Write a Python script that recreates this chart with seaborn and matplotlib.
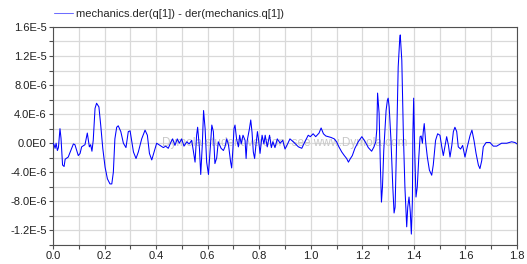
import numpy as np
import pandas as pd
import seaborn as sns
import matplotlib.pyplot as plt
from matplotlib.ticker import MultipleLocator, FuncFormatter

# signal (time in s, value in 1e-6)
t = [0.0, 0.004, 0.008, 0.012, 0.017, 0.021, 0.027, 0.031, 0.037, 0.043, 0.047,
     0.059, 0.069, 0.079, 0.085, 0.098, 0.105, 0.111, 0.124, 0.133, 0.141, 0.146,
     0.151, 0.156, 0.163, 0.169, 0.178, 0.185, 0.193, 0.202, 0.211, 0.221, 0.228,
     0.234, 0.240, 0.247, 0.253, 0.263, 0.273, 0.283, 0.292, 0.299, 0.312, 0.322,
     0.331, 0.344, 0.357, 0.366, 0.374, 0.383, 0.392, 0.402, 0.415, 0.428, 0.437,
     0.447, 0.458, 0.464, 0.473, 0.482, 0.490, 0.499, 0.508, 0.519, 0.528, 0.538,
     0.544, 0.551, 0.557, 0.561, 0.568, 0.573, 0.579, 0.584, 0.590, 0.596, 0.603,
     0.609, 0.616, 0.622, 0.628, 0.635, 0.641, 0.652, 0.661, 0.667, 0.674, 0.681,
     0.689, 0.693, 0.698, 0.702, 0.706, 0.712, 0.719, 0.724, 0.730, 0.737, 0.745,
     0.749, 0.753, 0.762, 0.767, 0.772, 0.777, 0.782, 0.787, 0.793, 0.798, 0.803,
     0.811, 0.818, 0.823, 0.831, 0.840, 0.847, 0.853, 0.861, 0.870, 0.881, 0.891,
     0.900, 0.910, 0.919, 0.932, 0.952, 0.965, 0.977, 0.990, 0.998, 1.009, 1.019,
     1.032, 1.040, 1.049, 1.058, 1.068, 1.078, 1.091, 1.100, 1.109, 1.120, 1.130,
     1.139, 1.146, 1.152, 1.161, 1.171, 1.184, 1.198, 1.211, 1.223, 1.236, 1.245,
     1.252, 1.256, 1.259, 1.265, 1.270, 1.274, 1.278, 1.283, 1.292, 1.297, 1.300,
     1.304, 1.311, 1.318, 1.323, 1.327, 1.333, 1.339, 1.345, 1.347, 1.353, 1.359,
     1.365, 1.372, 1.376, 1.381, 1.386, 1.390, 1.394, 1.396, 1.399, 1.403, 1.408,
     1.413, 1.419, 1.424, 1.428, 1.433, 1.436, 1.440, 1.446, 1.452, 1.460, 1.469,
     1.475, 1.484, 1.492, 1.501, 1.508, 1.514, 1.521, 1.527, 1.534, 1.540, 1.547,
     1.553, 1.559, 1.566, 1.572, 1.581, 1.589, 1.598, 1.607, 1.618, 1.625, 1.633,
     1.641, 1.650, 1.656, 1.663, 1.669, 1.680, 1.695, 1.708, 1.721, 1.740, 1.760,
     1.779, 1.792, 1.800]
v = [0.0, -0.2, -0.7, 0.0, -1.0, -0.6, 2.0, 0.7, -3.0, -3.2, -2.2,
     -1.9, -1.0, -0.1, -0.2, -1.7, -1.4, -0.5, -0.2, 1.4, -0.5, -0.2,
     -1.1, 0.4, 4.8, 5.5, 5.0, 2.5, -0.7, -3.3, -4.9, -5.6, -5.6,
     -4.0, 0.6, 2.2, 2.4, 1.6, 0.0, -0.6, 1.6, 1.7, -1.2, -2.1,
     -1.2, 0.6, 1.8, 1.1, -1.4, -2.3, -1.2, 0.0, -0.3, -0.6, -0.4,
     -0.7, 0.2, 0.6, -0.3, 0.6, 0.0, 0.6, -0.4, 0.2, -0.1, 0.4,
     -1.0, -2.6, 1.1, 2.2, -0.7, -4.3, -0.3, 4.5, 2.0, -2.6, -4.3,
     -1.2, 2.5, 1.6, -2.8, -2.0, 0.2, -0.7, -1.0, -0.5, 0.6, -0.3,
     -2.6, -3.4, -0.7, 2.0, 2.5, 0.6, -0.5, 1.1, -0.1, 1.1, 0.4,
     -2.1, 0.3, 2.0, 3.2, 1.5, -1.2, -2.1, -0.3, 1.6, 0.3, -1.4,
     1.1, -0.1, 1.1, -0.5, 1.1, -0.6, 0.2, -0.6, 0.6, 0.0, 0.4,
     -0.8, -0.1, 0.6, 0.2, -0.5, -0.7, 0.2, 1.1, 0.9, 1.3, 0.9,
     1.4, 2.1, 1.3, 1.0, 0.9, 0.8, 0.6, 0.2, -0.5, -1.2, -1.7,
     -2.1, -2.6, -2.2, -1.7, -0.7, 0.2, 0.9, 0.2, -0.6, -1.1, -0.5,
     0.2, 1.9, 6.9, 4.1, -3.3, -8.1, -6.0, -1.0, 4.5, 5.9, 6.2,
     5.0, 0.4, -6.0, -9.6, -8.8, 0.4, 10.5, 14.4, 14.9, 11.4, 1.3,
     -6.0, -11.5, -8.8, -7.4, -9.5, -12.5, -8.0, 1.3, 6.2, -1.0, -7.4,
     -6.0, -1.9, 0.9, 1.0, 0.0, 1.5, 2.7, 0.0, -1.9, -3.7, -4.4,
     -3.0, 0.4, 1.3, 1.1, -0.5, -1.7, -0.3, 0.9, -0.3, -1.9, -0.3,
     1.6, 2.2, 1.6, -0.5, -0.8, -0.3, -1.9, -0.5, 1.1, 1.8, 0.4,
     -1.4, -3.0, -3.5, -2.4, -0.5, 0.1, 0.1, -0.4, -0.4, 0.0, 0.0,
     0.2, 0.1, -0.1]

label = "mechanics.der(q[1]) - der(mechanics.q[1])"
watermark = "Dymola student version, see www.Dymola.com"

df = pd.DataFrame({"time": t, "value": np.array(v) * 1e-6})

sns.set_theme(style="whitegrid")
plt.rcParams['font.family'] = ['Liberation Sans', 'DejaVu Sans']


def sci(x, pos):
    if abs(x) < 1e-12:
        return "0.0E0"
    e = int(np.floor(np.log10(abs(x))))
    m = x / 10 ** e
    return f"{m:.1f}E{e}"


fig = plt.figure(figsize=(5.27, 2.64), dpi=100)
ax = fig.add_axes([0.1006, 0.072, 0.8805, 0.826])

ax.text(0.9, 0.0, watermark, ha='center', va='center', fontsize=8.5,
        color='#c8c8c8', zorder=1)
sns.lineplot(data=df, x="time", y="value", ax=ax, color='#0000ff', lw=0.75,
             label=label, zorder=3)

ax.set_xlim(0, 1.8)
ax.set_ylim(-1.4e-5, 1.6e-5)
ax.xaxis.set_major_locator(MultipleLocator(0.2))
ax.xaxis.set_minor_locator(MultipleLocator(0.1))
ax.yaxis.set_major_locator(MultipleLocator(4e-6))
ax.yaxis.set_minor_locator(MultipleLocator(2e-6))
ax.xaxis.set_major_formatter(FuncFormatter(lambda x, p: f"{x:.1f}"))
ax.yaxis.set_major_formatter(FuncFormatter(sci))
ax.grid(True, which='both', color='#d9d9d9', lw=0.9)
ax.set_axisbelow(True)
ax.set_xlabel("")
ax.set_ylabel("")

ax.tick_params(which='both', direction='out', length=3, width=0.8,
               color='#505050', labelsize=8, labelcolor='#202020', pad=1.5,
               left=True, bottom=True)
for s in ax.spines.values():
    s.set_color('#505050')
    s.set_linewidth(0.8)

leg = ax.legend(loc='lower left', bbox_to_anchor=(0.002, 1.035), frameon=False,
                fontsize=8, handlelength=1.7, handletextpad=0.25,
                borderaxespad=0, borderpad=0)
for h in leg.get_lines():
    h.set_color('#6e6eff')

fig.savefig("out.png", dpi=100)
